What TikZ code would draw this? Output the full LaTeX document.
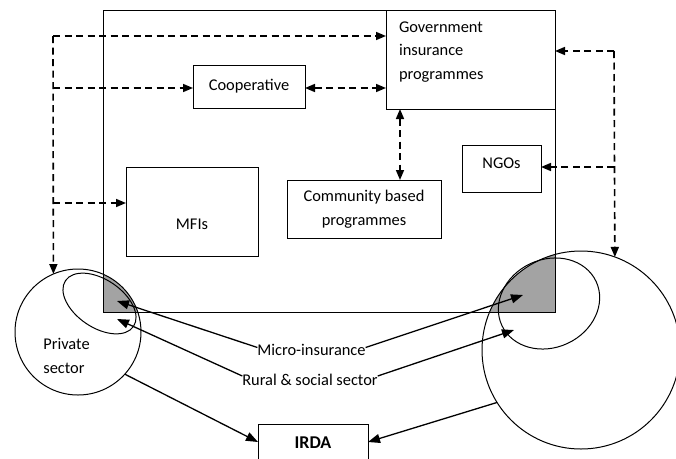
\documentclass[tikz,border=0pt]{standalone}
\usepackage{fontspec}
\setmainfont{Carlito}
\usetikzlibrary{arrows.meta,calc}
\begin{document}
\begin{tikzpicture}[x=1pt,y=-1pt,
  box/.style={draw, line width=1pt, inner sep=0pt, outer sep=0pt},
  lbl/.style={font=\fontsize{16.4}{23.5}\selectfont, inner sep=0pt, outer sep=0pt},
  ring/.style={draw, circle, line width=1pt, inner sep=0pt, outer sep=0pt},
  dasharrow/.style={line width=1.6pt, dash pattern=on 7pt off 4.5pt, -{Triangle[length=10pt,width=8pt]}},
  dashboth/.style={line width=1.6pt, dash pattern=on 7pt off 4.5pt, {Triangle[length=10pt,width=8pt]}-{Triangle[length=10pt,width=8pt]}},
  solidarrow/.style={line width=1.3pt, -{Triangle[length=12pt,width=9pt]}},
  overlap/.style={fill=black!36}
]
\useasboundingbox (0,0) rectangle (676,458);

% shaded overlaps of the sectors with the outer frame
\begin{scope}
  \clip (78,332) circle[radius=63pt];
  \fill[overlap] (103,10) rectangle (555,312);
\end{scope}
\begin{scope}
  \clip (581,350) circle[radius=99pt];
  \fill[overlap] (103,10) rectangle (555,312);
\end{scope}

% outer frame and boxes
\node[box, minimum width=452pt, minimum height=302pt] (frame) at (329,161) {};
\node[box, minimum width=169pt, minimum height=99pt] (gov) at (470.5,59.5) {};
\node[lbl, anchor=north west, align=left] (govtext) at (399,21.5) {Government\\insurance\\programmes};
\node[box, lbl, minimum width=112pt, minimum height=43pt] (coop) at (249,86.5) {Cooperative};
\node[box, minimum width=132pt, minimum height=89pt] (mfi) at (192,211.5) {};
\node[lbl] (mfitext) at (192,224) {MFIs};
\node[box, lbl, align=center, minimum width=154pt, minimum height=58pt] (comm) at (364,209) {Community based\\programmes};
\node[box, minimum width=79pt, minimum height=47pt] (ngo) at (501.5,168.5) {};
\node[lbl] (ngotext) at (501.5,163) {NGOs};
\node[box, minimum width=110pt, minimum height=36pt] (irda) at (313,442) {};
\node[lbl, font=\fontsize{18}{22}\selectfont\bfseries] (irdatext) at (313,443) {IRDA};

% sectors
\node[ring, minimum size=126pt] (pcirc) at (78,332) {};
\node[ring, minimum size=198pt] (rcirc) at (581,350) {};
\draw[line width=1pt, rotate around={-34:(99.5,303.5)}] (99.5,303.5) ellipse[x radius=41pt, y radius=24pt];
\draw[line width=1pt, rotate around={25:(549,303.5)}] (549,303.5) ellipse[x radius=52pt, y radius=44pt];
\node[lbl, align=left] (priv) at (66.5,356) {Private\\sector};

% labels between the sectors
\node[lbl] (micro) at (311.5,349.5) {Micro-insurance};
\node[lbl] (rural) at (310,380) {Rural \& social sector};

% dashed links
\coordinate (L1) at (53,36);
\coordinate (L2) at (53,88);
\coordinate (L3) at (53,203);
\coordinate (R1) at (614,51);
\coordinate (R2) at (614,167);
\coordinate (V) at (400,0);

\draw[dasharrow] (L1) -- (L1 -| gov.west);
\draw[dasharrow] (L1) -- (pcirc.113.4);
\draw[dasharrow] (L2) -- (L2 -| coop.west);
\draw[dashboth] (L2 -| coop.east) -- (L2 -| gov.west);
\draw[dasharrow] (L3) -- (L3 -| mfi.west);
\draw[dashboth] (V |- gov.south) -- (V |- comm.north);
\draw[dasharrow] (R1) -- (R1 -| gov.east);
\draw[dasharrow] (R1) -- (rcirc.70.5);
\draw[dasharrow] (R2) -- (R2 -| ngo.east);

% solid links
\coordinate (ML) at (117,301);
\coordinate (RL) at (117,319);
\coordinate (MR) at (523,295);
\coordinate (RR) at (514,330);
\draw[solidarrow] ([yshift=2pt]micro.west) -- (ML);
\draw[solidarrow] ([yshift=2pt]micro.east) -- (MR);
\draw[solidarrow] ([yshift=4pt]rural.west) -- (RL);
\draw[solidarrow] ([yshift=4pt]rural.east) -- (RR);
\draw[solidarrow] (pcirc.-42) -- (irda.west);
\draw[solidarrow] (rcirc.212) -- (irda.east);
\end{tikzpicture}
\end{document}
